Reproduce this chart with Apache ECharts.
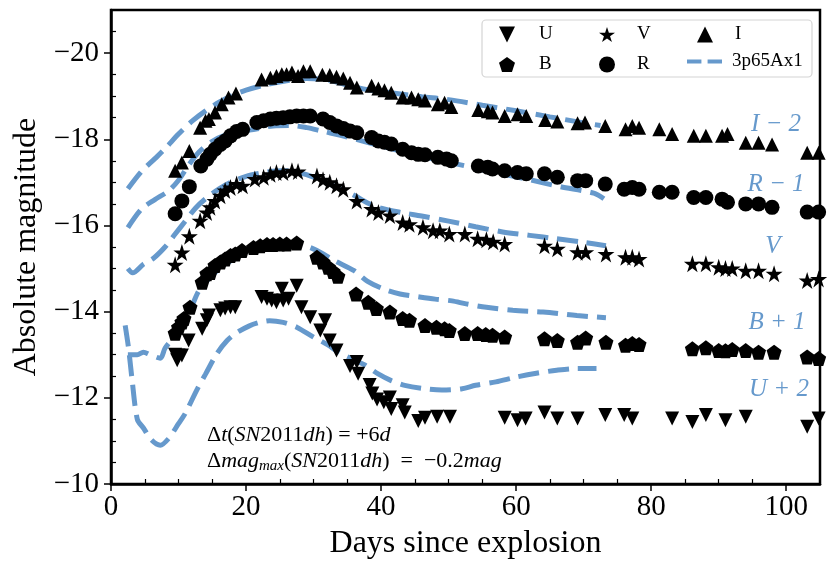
<!DOCTYPE html>
<html lang="en">
<head>
<meta charset="UTF-8">
<title>SN light curves</title>
<script src="https://cdn.jsdelivr.net/npm/echarts@6/dist/echarts.min.js"></script>
<style>
  html, body { margin: 0; padding: 0; background: #fff; }
  #main { width: 831px; height: 570px; }
</style>
</head>
<body>
<div id="main"></div>
<script>
// observed photometry: [day, absolute magnitude incl. offset]
var uData = [[9.5,-13.0],[9.8,-12.87],[10.0,-12.98],[10.5,-12.98],[11.5,-13.33],[13.5,-13.6],[14.2,-13.8],[14.5,-13.91],[16.2,-14.03],[16.9,-14.07],[17.7,-14.1],[18.4,-14.1],[22.3,-14.34],[23.1,-14.3],[23.8,-14.26],[24.5,-14.22],[25.3,-14.53],[25.5,-14.26],[26.3,-14.3],[27.5,-14.6],[28.2,-14.1],[29.5,-13.87],[31.0,-13.56],[31.7,-13.8],[32.4,-13.33],[33.4,-13.1],[35.4,-12.74],[36.4,-12.83],[36.6,-12.56],[38.3,-12.3],[38.7,-12.1],[39.4,-11.96],[40.4,-11.9],[41.3,-12.01],[41.5,-11.74],[43.2,-11.83],[43.5,-11.66],[45.5,-11.46],[46.5,-11.54],[48.3,-11.56],[50.2,-11.56],[58.3,-11.54],[60.2,-11.48],[61.4,-11.52],[64.2,-11.66],[66.1,-11.52],[69.1,-11.52],[73.2,-11.6],[76.0,-11.6],[77.2,-11.52],[83.1,-11.52],[86.1,-11.44],[88.1,-11.6],[91.0,-11.48],[94.0,-11.56],[103.1,-11.33],[104.8,-11.52]];
var bData = [[9.5,-13.5],[10.0,-13.64],[10.5,-13.76],[10.8,-13.84],[11.7,-14.1],[13.5,-14.68],[14.2,-14.88],[14.7,-14.91],[15.4,-15.07],[16.2,-15.15],[16.9,-15.22],[17.7,-15.3],[18.4,-15.34],[19.4,-15.42],[21.1,-15.49],[22.1,-15.53],[23.1,-15.56],[24.0,-15.56],[25.0,-15.57],[26.0,-15.57],[27.5,-15.59],[30.5,-15.26],[31.4,-15.15],[32.2,-15.03],[32.9,-14.93],[33.6,-14.82],[36.3,-14.41],[38.1,-14.22],[39.3,-14.07],[41.3,-13.99],[43.2,-13.84],[44.2,-13.8],[46.5,-13.68],[48.2,-13.64],[49.4,-13.6],[50.1,-13.56],[52.4,-13.49],[54.3,-13.49],[55.5,-13.47],[56.5,-13.45],[58.3,-13.41],[64.2,-13.37],[66.1,-13.33],[69.1,-13.29],[70.3,-13.39],[73.3,-13.29],[76.2,-13.22],[77.2,-13.26],[78.2,-13.24],[86.1,-13.14],[88.1,-13.16],[90.0,-13.1],[91.0,-13.09],[92.0,-13.12],[94.0,-13.1],[95.9,-13.06],[98.2,-13.06],[103.1,-12.95],[104.8,-12.91]];
var vData = [[9.5,-15.09],[10.5,-15.37],[11.6,-15.75],[13.2,-16.11],[14.2,-16.3],[14.7,-16.42],[15.4,-16.57],[16.2,-16.69],[16.9,-16.81],[17.7,-16.88],[18.6,-16.96],[19.5,-16.92],[21.3,-17.08],[22.6,-17.12],[23.6,-17.19],[24.5,-17.23],[25.5,-17.23],[26.8,-17.27],[27.7,-17.25],[30.5,-17.15],[31.4,-17.06],[32.4,-17.0],[33.4,-16.92],[34.4,-16.84],[36.4,-16.57],[38.6,-16.38],[39.6,-16.3],[41.3,-16.23],[43.2,-16.07],[44.2,-16.03],[46.2,-15.96],[47.7,-15.88],[48.7,-15.88],[50.1,-15.8],[52.4,-15.8],[54.3,-15.69],[55.6,-15.67],[56.6,-15.62],[58.3,-15.57],[64.2,-15.53],[66.1,-15.46],[69.1,-15.38],[70.3,-15.38],[73.3,-15.34],[76.2,-15.26],[77.2,-15.26],[78.2,-15.22],[86.1,-15.11],[88.1,-15.11],[90.0,-15.03],[91.0,-15.0],[92.0,-15.0],[94.0,-14.95],[95.9,-14.95],[98.2,-14.88],[103.1,-14.72],[104.8,-14.76]];
var rData = [[9.5,-16.27],[10.5,-16.57],[11.6,-16.9],[13.3,-17.38],[14.2,-17.54],[14.7,-17.65],[15.4,-17.77],[16.2,-17.88],[16.9,-17.96],[17.7,-18.08],[18.6,-18.18],[19.5,-18.23],[21.6,-18.39],[22.6,-18.43],[23.6,-18.47],[24.5,-18.49],[25.5,-18.5],[26.5,-18.52],[27.5,-18.54],[28.5,-18.54],[29.5,-18.54],[31.4,-18.47],[32.4,-18.39],[33.4,-18.31],[34.4,-18.25],[35.4,-18.19],[36.4,-18.15],[38.6,-18.04],[39.6,-17.96],[40.5,-17.93],[41.5,-17.89],[43.2,-17.77],[44.5,-17.69],[45.5,-17.65],[46.5,-17.64],[48.4,-17.58],[49.7,-17.54],[50.4,-17.5],[54.4,-17.38],[55.8,-17.35],[56.5,-17.31],[58.3,-17.27],[60.2,-17.23],[61.5,-17.2],[64.2,-17.2],[66.1,-17.12],[69.1,-17.04],[70.3,-17.04],[73.2,-16.96],[76.0,-16.84],[77.2,-16.88],[78.2,-16.84],[81.2,-16.77],[83.1,-16.77],[86.3,-16.65],[88.1,-16.65],[90.5,-16.61],[91.3,-16.54],[94.0,-16.5],[95.9,-16.5],[97.9,-16.42],[103.1,-16.31],[104.8,-16.31]];
var iData = [[9.5,-17.27],[10.5,-17.46],[11.6,-17.73],[13.2,-18.27],[14.0,-18.43],[14.5,-18.47],[15.4,-18.62],[16.4,-18.81],[17.4,-18.97],[18.5,-19.06],[22.3,-19.39],[23.6,-19.43],[24.5,-19.47],[25.3,-19.51],[26.0,-19.51],[26.8,-19.55],[27.7,-19.47],[28.5,-19.58],[29.5,-19.58],[31.3,-19.5],[32.4,-19.49],[33.4,-19.45],[34.4,-19.41],[35.4,-19.31],[36.4,-19.2],[38.6,-19.24],[39.6,-19.18],[40.5,-19.14],[41.5,-19.08],[43.2,-18.97],[44.5,-18.97],[45.5,-18.93],[46.5,-18.9],[48.4,-18.81],[49.4,-18.85],[50.4,-18.75],[54.4,-18.68],[55.8,-18.65],[56.5,-18.62],[58.3,-18.54],[60.2,-18.58],[61.5,-18.54],[64.3,-18.45],[66.1,-18.41],[69.1,-18.37],[70.2,-18.39],[73.2,-18.31],[76.2,-18.23],[77.2,-18.31],[78.2,-18.27],[81.2,-18.23],[83.1,-18.12],[86.3,-18.08],[88.1,-18.08],[90.5,-18.08],[91.3,-18.12],[94.0,-17.92],[95.9,-17.92],[97.9,-17.88],[103.1,-17.69],[104.8,-17.69]];

// model 3p65Ax1, shifted like the data
var uModel = [[2.1,-13.68],[2.6,-13.15],[3.1,-12.45],[3.9,-11.5],[4.8,-11.3],[6.0,-11.02],[7.3,-10.9],[8.5,-11.05],[10,-11.4],[11,-11.64],[12.7,-12.18],[14,-12.55],[15.7,-13.03],[17.2,-13.33],[18.5,-13.5],[20.5,-13.67],[22,-13.75],[23.5,-13.79],[25.5,-13.75],[27.5,-13.64],[30,-13.41],[32,-13.24],[34,-13.03],[36,-12.88],[37.5,-12.77],[39.5,-12.56],[41.5,-12.4],[43.5,-12.29],[46,-12.22],[49,-12.18],[52,-12.21],[54,-12.29],[57,-12.37],[60,-12.48],[63,-12.57],[66,-12.64],[69,-12.68],[71.9,-12.68]];
var bModel = [[2.5,-13.0],[3.9,-13.0],[4.8,-13.06],[5.8,-13.0],[7.3,-12.92],[8,-13.15],[9,-13.35],[10,-13.56],[11,-13.85],[12,-14.14],[13,-14.48],[14.7,-14.8],[16.5,-15.05],[18.5,-15.25],[20.5,-15.4],[22.5,-15.5],[24.5,-15.57],[26.5,-15.6],[28,-15.57],[30.5,-15.42],[33,-15.19],[36,-14.95],[38,-14.7],[40.3,-14.53],[42.8,-14.41],[45.7,-14.34],[48,-14.29],[50.5,-14.25],[52.6,-14.18],[55.6,-14.1],[59.5,-14.03],[64,-13.99],[69,-13.91],[73.3,-13.86]];
var vModel = [[2.5,-15.0],[3.2,-14.9],[4.8,-15.1],[6.3,-15.24],[8,-15.5],[9.5,-15.8],[11,-16.1],[12.5,-16.4],[14,-16.62],[16,-16.85],[18,-17.02],[20,-17.14],[22,-17.21],[24,-17.26],[26,-17.27],[28,-17.22],[30,-17.12],[32,-16.98],[34,-16.85],[36,-16.7],[38,-16.52],[40,-16.4],[43,-16.3],[46,-16.22],[50,-16.1],[54,-15.97],[58,-15.85],[62,-15.77],[66,-15.69],[70,-15.61],[73.3,-15.53]];
var rModel = [[2.5,-15.95],[4.5,-16.38],[6.5,-16.6],[8.5,-16.8],[10,-17.05],[11.5,-17.4],[13,-17.7],[15,-17.95],[17,-18.1],[19,-18.18],[21.5,-18.24],[24,-18.31],[26.5,-18.32],[29,-18.27],[31,-18.2],[34,-18.09],[37,-17.97],[42,-17.76],[47,-17.57],[52.5,-17.38],[57,-17.22],[61.5,-17.08],[66.5,-16.9],[71.5,-16.75],[73,-16.62]];
var iModel = [[2.5,-16.85],[4.5,-17.25],[6.5,-17.55],[8,-17.78],[10,-18.12],[12,-18.42],[14,-18.66],[16,-18.86],[18,-19.02],[20,-19.14],[23,-19.27],[26,-19.36],[29,-19.41],[32,-19.38],[35,-19.26],[38,-19.15],[42,-19.07],[46,-18.99],[50,-18.92],[55,-18.79],[60,-18.66],[65,-18.52],[70,-18.38],[72.5,-18.32]];

var xTicks = [0, 20, 40, 60, 80, 100];
var yTicks = [-20, -18, -16, -14, -12, -10];
var bandLabels = ['I \u2212 2', 'R \u2212 1', 'V', 'B + 1', 'U + 2'];

var FONT = "'Liberation Serif', 'DejaVu Serif', serif";
var BLUE = '#6699cc';

var xMinor = [];
for (var i = 5; i < 105; i += 5) if (i % 20 !== 0) xMinor.push(i);
var yMinor = [];
for (var j = -20.5; j < -10; j += 0.5) if (j % 2 !== 0) yMinor.push(j);

var SYM_DOWN = 'path://M0,0L100,0L50,100Z';
var SYM_UP = 'path://M50,0L100,100L0,100Z';
var SYM_STAR = 'path://M50,0L61.23,34.55L97.55,34.55L68.17,55.9L79.39,90.45L50,69.1L20.61,90.45L31.83,55.9L2.45,34.55L38.77,34.55Z';
var SYM_PENT = 'path://M50,0L97.55,34.55L79.39,90.45L20.61,90.45L2.45,34.55Z';

function pts(name, data, symbol, size) {
    return {
        name: name,
        type: 'scatter',
        data: data,
        symbol: symbol,
        symbolSize: size,
        itemStyle: { color: '#000', opacity: 1 },
        z: 4
    };
}
function model(data) {
    return {
        name: '3p65Ax1',
        type: 'line',
        data: data,
        showSymbol: false,
        symbol: 'none',
        smooth: 0.3,
        color: BLUE,
        lineStyle: { color: BLUE, width: 5, type: [21, 9], cap: 'butt' },
        z: 2
    };
}

var myChart = echarts.init(document.getElementById('main'));

function legendCol(left, top, items, w, pad) {
    return {
        orient: 'vertical',
        left: left,
        top: top,
        padding: 0,
        itemWidth: w,
        itemHeight: 16,
        itemGap: 11,
        selectedMode: false,
        data: items,
        textStyle: { fontFamily: FONT, fontSize: 19, color: '#000', padding: [0, 0, 0, pad] }
    };
}

var option = {
    animation: false,
    backgroundColor: '#fff',
    grid: {
        left: 111, right: 11, top: 10, bottom: 86,
        show: true, borderColor: '#000', borderWidth: 2.5, backgroundColor: 'transparent'
    },
    legend: [
        legendCol(499, 25, ['U', 'B'], 16, 19),
        legendCol(599, 25, ['V', 'R'], 16, 17),
        legendCol(697, 25, ['I'], 16, 17),
        legendCol(687, 52, [{ name: '3p65Ax1', icon: 'path://M0,0H14V4H0Z M20,0H34V4H20Z', itemStyle: { color: BLUE, borderWidth: 0 } }], 35, 5)
    ],
    xAxis: [
        {
            type: 'value', min: 0, max: 105, position: 'bottom',
            name: 'Days since explosion', nameLocation: 'middle', nameGap: 44,
            nameTextStyle: { fontFamily: FONT, fontSize: 32, color: '#000' },
            axisLine: { show: true, lineStyle: { color: '#000', width: 2.5 } },
            axisTick: { show: true, inside: false, length: 7, customValues: xTicks, lineStyle: { color: '#000', width: 1.5 } },
            axisLabel: { customValues: xTicks, margin: 9, fontFamily: FONT, fontSize: 29, color: '#000' },
            splitLine: { show: false }
        },
        {
            type: 'value', min: 0, max: 105, position: 'bottom', offset: 0,
            axisLine: { show: false },
            axisTick: { show: true, inside: true, length: 5, customValues: xMinor, lineStyle: { color: '#000', width: 1.2 } },
            axisLabel: { show: false },
            splitLine: { show: false }
        }
    ],
    yAxis: [
        {
            type: 'value', min: -21, max: -10, inverse: true, position: 'left',
            name: 'Absolute magnitude', nameLocation: 'middle', nameGap: 60,
            nameTextStyle: { fontFamily: FONT, fontSize: 32, color: '#000' },
            axisLine: { show: true, lineStyle: { color: '#000', width: 2.5 } },
            axisTick: { show: true, inside: false, length: 7, customValues: yTicks, lineStyle: { color: '#000', width: 1.5 } },
            axisLabel: {
                customValues: yTicks, margin: 12, fontFamily: FONT, fontSize: 29, color: '#000',
                formatter: function (v) { return '\u2212' + Math.abs(v); }
            },
            splitLine: { show: false }
        },
        {
            type: 'value', min: -21, max: -10, inverse: true, position: 'left', offset: 0,
            axisLine: { show: false },
            axisTick: { show: true, inside: true, length: 5, customValues: yMinor, lineStyle: { color: '#000', width: 1.2 } },
            axisLabel: { show: false },
            splitLine: { show: false }
        }
    ],
    graphic: [
        {
            type: 'rect', z: 1,
            shape: { x: 482, y: 20, width: 330, height: 57, r: 4 },
            style: { fill: 'rgba(255,255,255,0.85)', stroke: '#d4d4d4', lineWidth: 1.2 }
        },
        { type: 'text', x: 776, y: 124, style: { text: bandLabels[0], fontFamily: FONT, fontSize: 25, fontStyle: 'italic', fill: BLUE, align: 'center', verticalAlign: 'middle' } },
        { type: 'text', x: 776, y: 184, style: { text: bandLabels[1], fontFamily: FONT, fontSize: 25, fontStyle: 'italic', fill: BLUE, align: 'center', verticalAlign: 'middle' } },
        { type: 'text', x: 773, y: 246, style: { text: bandLabels[2], fontFamily: FONT, fontSize: 25, fontStyle: 'italic', fill: BLUE, align: 'center', verticalAlign: 'middle' } },
        { type: 'text', x: 777, y: 322, style: { text: bandLabels[3], fontFamily: FONT, fontSize: 25, fontStyle: 'italic', fill: BLUE, align: 'center', verticalAlign: 'middle' } },
        { type: 'text', x: 779, y: 389, style: { text: bandLabels[4], fontFamily: FONT, fontSize: 25, fontStyle: 'italic', fill: BLUE, align: 'center', verticalAlign: 'middle' } },
        {
            type: 'text', x: 207, y: 435,
            style: {
                text: '{n|\u0394}{i|t}{n|(}{i|SN}{n|2011}{i|dh}{n|) = +6}{i|d}',
                verticalAlign: 'middle',
                rich: {
                    n: { fontFamily: FONT, fontSize: 22, color: '#222' },
                    i: { fontFamily: FONT, fontSize: 22, fontStyle: 'italic', color: '#222' }
                }
            }
        },
        {
            type: 'text', x: 207, y: 461,
            style: {
                text: '{n|\u0394}{i|mag}{s|max}{n|(}{i|SN}{n|2011}{i|dh}{n|)  =  \u22120.2}{i|mag}',
                verticalAlign: 'middle',
                rich: {
                    n: { fontFamily: FONT, fontSize: 22, color: '#222' },
                    i: { fontFamily: FONT, fontSize: 22, fontStyle: 'italic', color: '#222' },
                    s: { fontFamily: FONT, fontSize: 15, fontStyle: 'italic', color: '#222', padding: [10, 0, 0, 0] }
                }
            }
        }
    ],
    series: [
        model(uModel), model(bModel), model(vModel), model(rModel), model(iModel),
        pts('U', uData, SYM_DOWN, 14),
        pts('B', bData, SYM_PENT, 15),
        pts('V', vData, SYM_STAR, 17),
        pts('R', rData, 'circle', 15),
        pts('I', iData, SYM_UP, 14)
    ]
};

myChart.setOption(option);
</script>
</body>
</html>
